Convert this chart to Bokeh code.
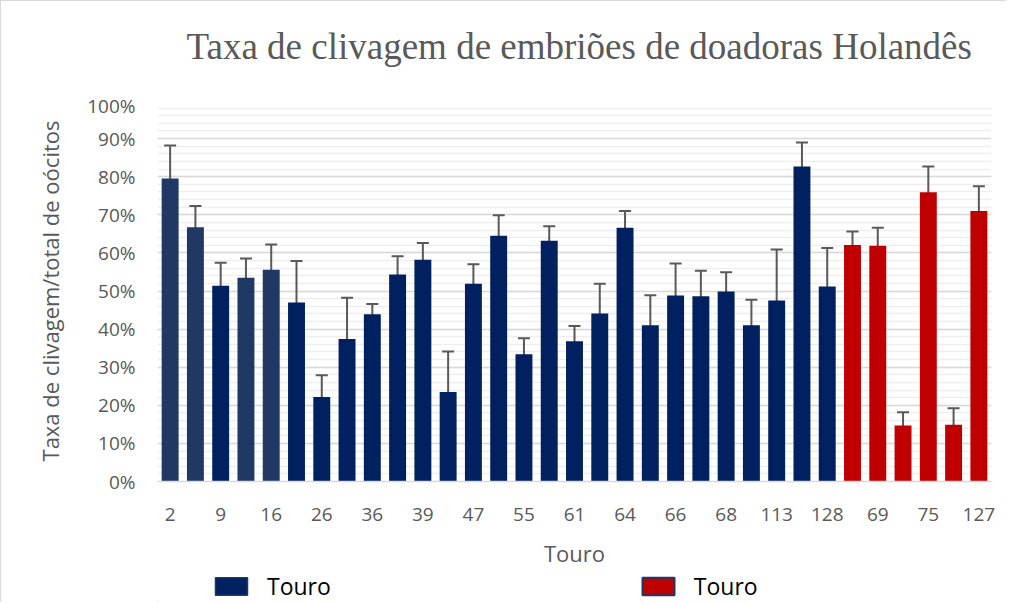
from bokeh.plotting import figure
from bokeh.layouts import column
from bokeh.models import (ColumnDataSource, Whisker, TeeHead, Legend, LegendItem,
                          FixedTicker, NumeralTickFormatter, Title, Range1d, FactorRange)
from bokeh.embed import file_html
from bokeh.resources import INLINE

# ---- data ----
touro = ["2", "", "9", "", "16", "", "26", "", "36", "", "39", "", "47", "", "55", "",
         "61", "", "64", "", "66", "", "68", "", "113", "", "128", "", "69", "", "75", "", "127"]
taxa = [79.5, 66.7, 51.4, 53.5, 55.6, 47.0, 22.2, 37.4, 43.9, 54.3, 58.2, 23.5, 51.9,
        64.5, 33.4, 63.2, 36.8, 44.1, 66.6, 41.0, 48.8, 48.6, 49.9, 41.0, 47.5, 82.7,
        51.2, 62.1, 61.9, 14.7, 75.9, 14.9, 71.0]
erro_sup = [88.2, 72.3, 57.4, 58.5, 62.2, 57.9, 27.9, 48.2, 46.6, 59.1, 62.6, 34.1, 57.0,
            69.9, 37.6, 67.0, 40.8, 51.9, 71.0, 48.9, 57.2, 55.3, 54.9, 47.7, 60.9, 89.0,
            61.3, 65.6, 66.6, 18.2, 82.7, 19.2, 77.5]
erro_inf = [70.8, 61.2, 45.4, 48.7, 48.9, 36.4, 16.8, 26.8, 41.0, 49.3, 53.9, 13.0, 46.7,
            58.8, 29.4, 59.1, 32.7, 36.5, 62.1, 32.9, 40.6, 41.8, 44.7, 34.1, 34.3, 76.2,
            40.9, 58.9, 57.2, 11.1, 69.1, 10.9, 64.3]
grupo = ["A"] * 27 + ["B"] * 6
yticks = [0, 10, 20, 30, 40, 50, 60, 70, 80, 90, 100]
legenda = ["Touro", "Touro"]
titulo = "Taxa de clivagem de embriões de doadoras Holandês"

# ---- styling ----
NAVY = "#002060"
NAVY2 = "#1F3864"
RED = "#C00000"
GRAY = "#595959"
FONT = "Open Sans"
BORDER = "1px solid #d9d9d9"

# unlabeled bars get unique blank factors
factors = [lab if lab else " " * (i + 1) for i, lab in enumerate(touro)]
cores = []
for i, g in enumerate(grupo):
    if g == "B":
        cores.append(RED)
    elif i in (0, 1, 3, 4):
        cores.append(NAVY2)
    else:
        cores.append(NAVY)

src = ColumnDataSource(dict(
    x=factors,
    top=[v / 100 for v in taxa],
    upper=[v / 100 for v in erro_sup],
    lower=[v / 100 for v in erro_inf],
    cor=cores,
))

# ---- title strip ----
tf = figure(width=1006, height=92, output_backend="svg", toolbar_location=None,
            x_axis_type=None, y_axis_type=None,
            x_range=Range1d(0, 1), y_range=Range1d(0, 1),
            min_border_left=0, min_border_right=0, min_border_top=0, min_border_bottom=0)
tf.grid.visible = False
tf.outline_line_color = None
tf.title = Title(text=titulo, text_font="Liberation Serif", text_font_size="37px",
                 text_font_style="normal", text_color=GRAY, align="left",
                 standoff=44, offset=29)

# ---- main chart ----
p = figure(width=1006, height=478, output_backend="svg", toolbar_location=None,
           x_range=FactorRange(factors=factors), y_range=Range1d(0, 1),
           min_border_left=156, min_border_right=16, min_border_top=8,
           min_border_bottom=80)
p.outline_line_color = None
p.background_fill_color = "white"
p.border_fill_color = "white"

p.vbar(x="x", top="top", width=0.67, source=src, fill_color="cor", line_color=None)

head = dict(size=12, line_color=GRAY, line_width=2)
w = Whisker(base="x", upper="upper", lower="lower", source=src,
            line_color=GRAY, line_width=2,
            upper_head=TeeHead(**head), lower_head=TeeHead(**head))
p.add_layout(w)

p.yaxis.ticker = FixedTicker(ticks=[t / 100 for t in yticks],
                             minor_ticks=[i * 0.02 for i in range(51)])
p.yaxis.formatter = NumeralTickFormatter(format="0%")
p.yaxis.axis_line_color = None
p.yaxis.major_tick_line_color = None
p.yaxis.minor_tick_line_color = None
p.yaxis.major_tick_out = 0
p.yaxis.minor_tick_out = 0
p.yaxis.major_label_text_font = FONT
p.yaxis.major_label_text_font_size = "19px"
p.yaxis.major_label_text_color = GRAY
p.yaxis.major_label_standoff = 22
p.yaxis.axis_label = "Taxa de clivagem/total de oócitos"
p.yaxis.axis_label_text_font = FONT
p.yaxis.axis_label_text_font_size = "22px"
p.yaxis.axis_label_text_font_style = "normal"
p.yaxis.axis_label_text_color = GRAY
p.yaxis.axis_label_standoff = 19

p.xaxis.axis_line_color = "#d9d9d9"
p.xaxis.axis_line_width = 1.5
p.xaxis.major_tick_line_color = None
p.xaxis.minor_tick_line_color = None
p.xaxis.major_tick_out = 0
p.xaxis.minor_tick_out = 0
p.xaxis.major_label_text_font = FONT
p.xaxis.major_label_text_font_size = "19px"
p.xaxis.major_label_text_color = GRAY
p.xaxis.major_label_standoff = 19
p.xaxis.axis_label = "Touro"
p.xaxis.axis_label_text_font = FONT
p.xaxis.axis_label_text_font_size = "22px"
p.xaxis.axis_label_text_font_style = "normal"
p.xaxis.axis_label_text_color = GRAY
p.xaxis.axis_label_standoff = 8

p.xgrid.visible = False
p.ygrid.grid_line_color = "#d9d9d9"
p.ygrid.grid_line_width = 1.5
p.ygrid.minor_grid_line_color = "#eeeeee"
p.ygrid.minor_grid_line_width = 1.5

# ---- legend strip (its frame aligns with the chart's frame) ----
lg = figure(width=1006, height=32, output_backend="svg", toolbar_location=None,
            x_axis_type=None, y_axis_type=None,
            x_range=Range1d(0, 1), y_range=Range1d(0, 1),
            min_border_left=0, min_border_right=0, min_border_top=0, min_border_bottom=0)
lg.grid.visible = False
lg.outline_line_color = None
hidden = ColumnDataSource(dict(x=[-10], top=[0]))
r1 = lg.vbar(x="x", top="top", width=0.1, source=hidden, fill_color=NAVY,
             line_color=NAVY2, line_width=1.5)
r2 = lg.vbar(x="x", top="top", width=0.1, source=hidden, fill_color=RED,
             line_color=NAVY2, line_width=2)
legend = Legend(items=[LegendItem(label=legenda[0], renderers=[r1]),
                       LegendItem(label=legenda[1], renderers=[r2])],
                orientation="horizontal", location=(54, 0),
                glyph_width=40, glyph_height=22, label_standoff=16,
                label_height=22,
                label_text_font=FONT, label_text_font_size="23px",
                label_text_color="black", spacing=307, padding=0, margin=0,
                border_line_color=None, background_fill_alpha=0)
lg.add_layout(legend, "center")

tf.styles = {"border-top": BORDER, "border-left": BORDER}
p.styles = {"border-left": BORDER}
lg.styles = {"border-left": BORDER}

layout = column(tf, p, lg, spacing=0)
open("out.html", "w").write(file_html(layout, INLINE))
